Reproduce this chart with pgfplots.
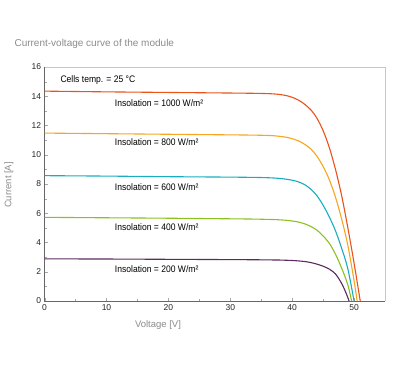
\documentclass[border=0pt]{standalone}
\usepackage{pgfplots}
\pgfplotsset{compat=1.18}
\usepackage{fontspec}
\setmainfont{Liberation Sans}
\newfontfamily\condfont[FakeStretch=0.9]{Liberation Sans}
\definecolor{c1000}{RGB}{234,84,26}
\definecolor{c800}{RGB}{248,166,30}
\definecolor{c600}{RGB}{24,174,192}
\definecolor{c400}{RGB}{140,194,32}
\definecolor{c200}{RGB}{92,42,94}
\definecolor{txtgray}{RGB}{140,140,140}
\begin{document}
\begin{tikzpicture}[x=1pt,y=1pt]
\path[use as bounding box,fill=white] (0,0) rectangle (400,378);
\node[anchor=base west,text=txtgray,font=\fontsize{10}{12}\selectfont] at (11,331) {Current-voltage curve of the module};
\node[text=txtgray,font=\fontsize{9.5}{11}\selectfont] at (158,53) {Voltage [V]};
\node[text=txtgray,rotate=90,font=\fontsize{9.5}{11}\selectfont] at (9,193) {Current [A]};
\begin{axis}[
  at={(44.6pt,77pt)}, anchor=south west,
  scale only axis, width=340.4pt, height=234pt,
  xmin=0, xmax=55, ymin=0, ymax=16,
  xtick={0,10,20,30,40,50}, ytick={0,2,4,6,8,10,12,14,16},
  minor xtick={5,15,25,35,45}, minor ytick={1,3,5,7,9,11,13,15},
  xtick pos=bottom, ytick pos=left,
  tick align=inside, major tick length=3pt, minor tick length=2pt,
  tick style={gray!70},
  axis line style={draw=none},
  ticklabel style={font=\fontsize{8.5}{9}\selectfont, text=black!85},
  /pgf/number format/assume math mode=true,
  clip=false,
]
\draw[gray!45,line width=0.6pt] (rel axis cs:0,1) -- (rel axis cs:1,1) -- (rel axis cs:1,0);
\draw[gray!80!black,line width=0.6pt] (rel axis cs:0,1) -- (rel axis cs:0,0) -- (rel axis cs:1,0);
\addplot[c1000,line width=1.1pt,smooth] coordinates {(0,14.35)(10,14.3)(20,14.26)(30,14.22)(34,14.2)(36,14.18)(37,14.16)(38,14.12)(39,14.05)(40,13.93)(41,13.74)(42,13.46)(43,13.08)(44,12.5)(45,11.65)(46,10.5)(47,9.0)(48,7.2)(49,5.0)(50,2.6)(51,0)};
\addplot[c800,line width=1.1pt,smooth] coordinates {(0,11.48)(10,11.44)(20,11.4)(30,11.36)(34,11.34)(36,11.32)(37,11.3)(38,11.26)(39,11.2)(40,11.1)(41,10.95)(42,10.72)(43,10.4)(44,9.9)(45,9.2)(46,8.3)(47,7.1)(48,5.6)(49,3.8)(50,1.4)(50.5,0)};
\addplot[c600,line width=1.1pt,smooth] coordinates {(0,8.57)(10,8.54)(20,8.5)(30,8.47)(34,8.45)(36,8.43)(37,8.41)(38,8.38)(39,8.33)(40,8.26)(41,8.15)(42,7.96)(43,7.65)(44,7.2)(45,6.55)(46,5.75)(47,4.8)(48,3.6)(49,2.2)(50,0)};
\addplot[c400,line width=1.1pt,smooth] coordinates {(0,5.72)(10,5.69)(20,5.66)(30,5.62)(34,5.6)(36,5.58)(37,5.57)(38,5.55)(39,5.52)(40,5.47)(41,5.4)(42,5.28)(43,5.1)(44,4.85)(45,4.45)(46,3.95)(47,3.2)(48,2.25)(49,1.1)(49.6,0)};
\addplot[c200,line width=1.1pt,smooth] coordinates {(0,2.88)(10,2.87)(20,2.85)(30,2.83)(34,2.82)(36,2.81)(38,2.8)(40,2.77)(41,2.74)(42,2.7)(43,2.63)(44,2.52)(45,2.38)(46,2.18)(47,1.85)(48,1.2)(48.7,0.55)(49.2,0)};
\node[anchor=west,font=\condfont\fontsize{9.5}{10}\selectfont] at (axis cs:2,15.1) {Cells temp. = 25 °C};
\node[anchor=west,font=\condfont\fontsize{9.5}{10}\selectfont] at (axis cs:10.8,13.55) {Insolation = 1000 W/m²};
\node[anchor=west,font=\condfont\fontsize{9.5}{10}\selectfont] at (axis cs:10.8,10.85) {Insolation = 800 W/m²};
\node[anchor=west,font=\condfont\fontsize{9.5}{10}\selectfont] at (axis cs:10.8,7.81) {Insolation = 600 W/m²};
\node[anchor=west,font=\condfont\fontsize{9.5}{10}\selectfont] at (axis cs:10.8,5.04) {Insolation = 400 W/m²};
\node[anchor=west,font=\condfont\fontsize{9.5}{10}\selectfont] at (axis cs:10.8,2.19) {Insolation = 200 W/m²};
\end{axis}
\end{tikzpicture}
\end{document}
